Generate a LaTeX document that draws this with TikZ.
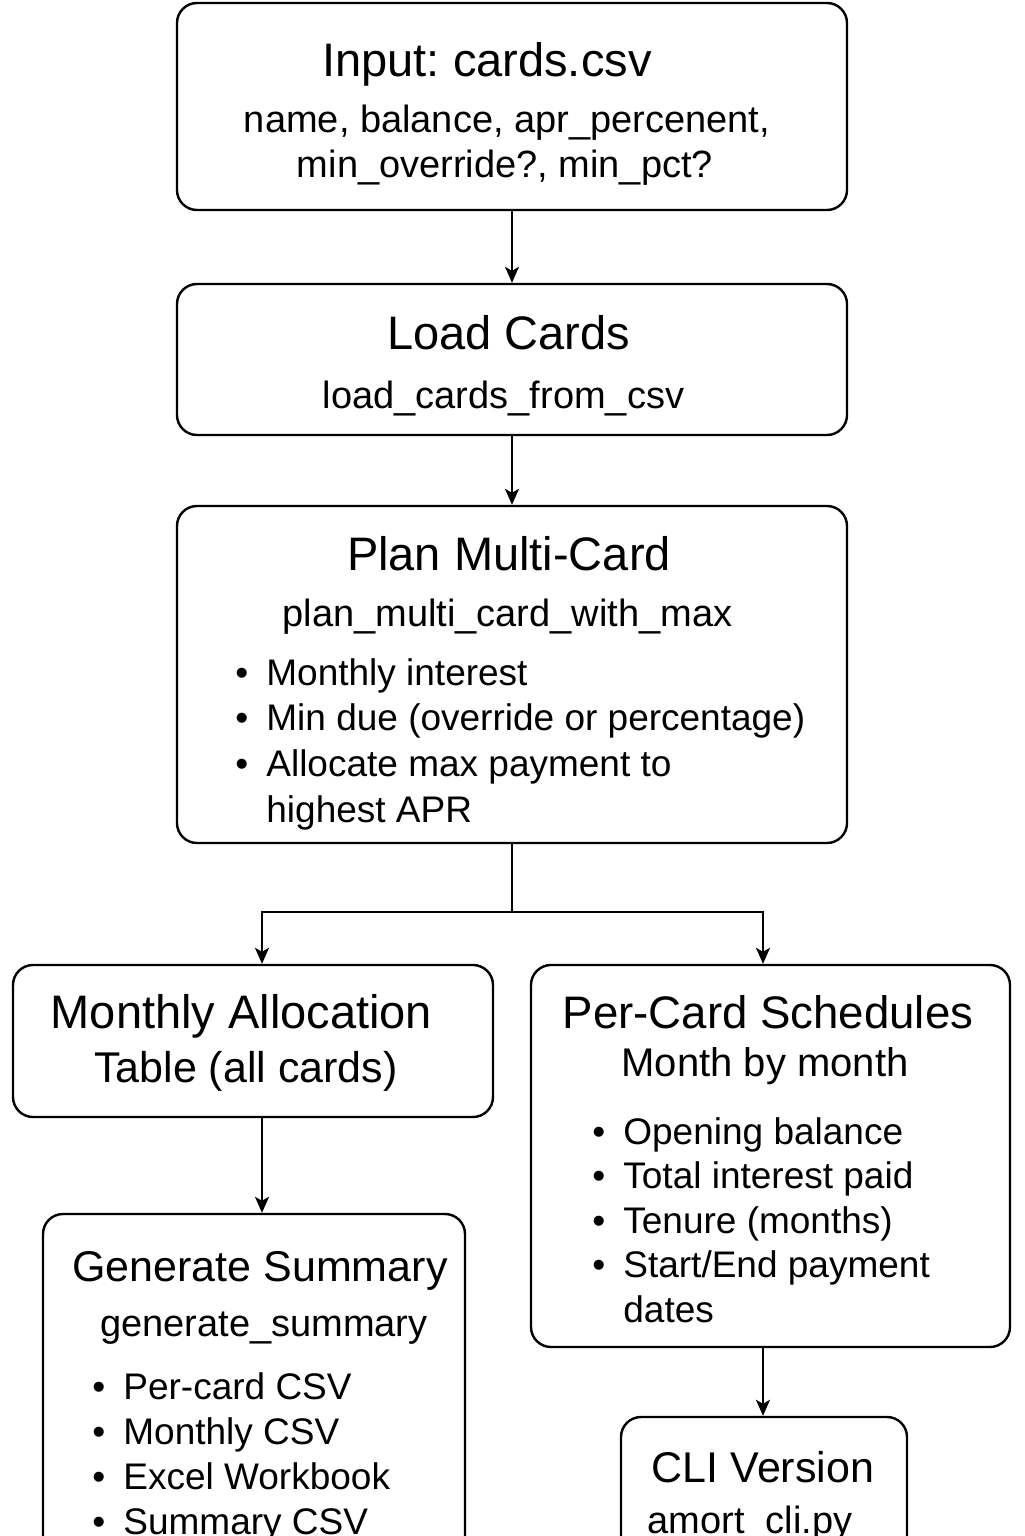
\documentclass[tikz,border=0pt]{standalone}
\usepackage{fontspec}
\setmainfont{Liberation Sans}
\usepackage{tikz}
\usetikzlibrary{arrows.meta, positioning, calc}
\definecolor{mydark}{RGB}{0,0,0}
\tikzset{
  box/.style={rectangle, draw=mydark, rounded corners=10pt,
    line width=1.2pt, inner sep=0pt},
  ttl/.style={font=\fontsize{23.5}{28}\selectfont, anchor=base, inner sep=0pt},
  sub/.style={font=\fontsize{19}{23}\selectfont, anchor=base, inner sep=0pt},
  item/.style={font=\fontsize{18.5}{22}\selectfont, anchor=base west, inner sep=0pt},
  arrow/.style={-{Stealth[length=8pt, width=7pt, inset=2pt]}, line width=1pt, color=mydark},
  line/.style={line width=1pt, color=mydark}
}
\newcommand{\bul}[1]{\makebox[15.5pt][l]{#1}}
\frenchspacing

\begin{document}
\begin{tikzpicture}[x=0.5pt, y=-0.5pt]
  \useasboundingbox (0,0) rectangle (1024,1536);
  \clip (0,0) rectangle (1024,1536);

  % Input file
  \node[box, minimum width=335pt, minimum height=103.5pt] (input) at (512,106.5) {};
  \node[ttl] (input-t) at (487,76) {Input: cards.csv};
  \node[sub] (input-s1) at (507,133) {name, balance, apr\_percenent,};
  \node[sub] (input-s2) at (505,177) {min\_override?, min\_pct?};

  % Load step
  \node[box, minimum width=335pt, minimum height=75.5pt] (load) at (512,359.5) {};
  \node[ttl] (load-t) at (508.5,349) {Load Cards};
  \node[sub] (load-s) at (503.5,408) {load\_cards\_from\_csv};

  % Planner
  \node[box, minimum width=335pt, minimum height=168.5pt] (plan) at (512,674.5) {};
  \node[ttl] (plan-t) at (509,570) {Plan Multi-Card};
  \node[sub] (plan-s) at (507.5,626) {plan\_multi\_card\_with\_max};
  \foreach \b/\t [count=\i] in {\textbullet/Monthly interest,
      \textbullet/Min due (override or percentage),
      \textbullet/Allocate max payment to, /highest APR}
    \node[item] (plan-\i) at (235,{685+(\i-1)*45.8}) {\bul{\b}\t};

  % Monthly table
  \node[box, minimum width=240pt, minimum height=76pt] (alloc) at (253,1041) {};
  \node[ttl] (alloc-t1) at (241.5,1028) {Monthly Allocation};
  \node[ttl, font=\fontsize{21.5}{26}\selectfont] (alloc-t2) at (246,1082) {Table (all cards)};

  % Schedules
  \node[box, minimum width=239.5pt, minimum height=191pt] (sched) at (770.5,1156) {};
  \node[ttl, font=\fontsize{22.8}{27}\selectfont] (sched-t) at (768,1028) {Per-Card Schedules};
  \node[sub, font=\fontsize{20}{24}\selectfont] (sched-s) at (765,1076) {Month by month};
  \foreach \b/\t [count=\i] in {\textbullet/Opening balance,
      \textbullet/Total interest paid, \textbullet/Tenure (months),
      \textbullet/{Start/End payment}, /dates}
    \node[item] (sched-\i) at (592,{1144+(\i-1)*44.5}) {\bul{\b}\t};

  % Summary output
  \node[box, minimum width=211pt, minimum height=213pt] (summary) at (254,1427) {};
  \node[ttl, font=\fontsize{21.5}{26}\selectfont] (summary-t) at (260,1281) {Generate Summary};
  \node[sub] (summary-s) at (264,1336) {generate\_summary};
  \foreach \b/\t [count=\i] in {\textbullet/Per-card CSV,
      \textbullet/Monthly CSV, \textbullet/Excel Workbook, \textbullet/Summary CSV}
    \node[item] (summary-\i) at (92,{1399+(\i-1)*45.3}) {\bul{\b}\t};

  % CLI
  \node[box, minimum width=143pt, minimum height=111.5pt] (cli) at (764,1528.5) {};
  \node[ttl, font=\fontsize{21.5}{26}\selectfont] (cli-t) at (763,1482) {CLI Version};
  \node[sub] (cli-s) at (750,1533) {amort\_cli.py};

  % Connectors
  \coordinate (split) at (512,912);
  \coordinate (alloc-in) at ([xshift=4.5pt]alloc.north);
  \coordinate (sched-in) at ([xshift=-3.75pt]sched.north);
  \coordinate (alloc-out) at ([xshift=4.5pt]alloc.south);
  \coordinate (sched-out) at ([xshift=-3.75pt]sched.south);
  \draw[arrow] (input.south) -- (load.north);
  \draw[arrow] (load.south) -- (plan.north);
  \draw[line] (plan.south) -- (split);
  \draw[arrow] (split) -| (alloc-in);
  \draw[arrow] (split) -| (sched-in);
  \draw[arrow] (alloc-out) -- (alloc-out |- summary.north);
  \draw[arrow] (sched-out) -- (sched-out |- cli.north);
\end{tikzpicture}
\end{document}
